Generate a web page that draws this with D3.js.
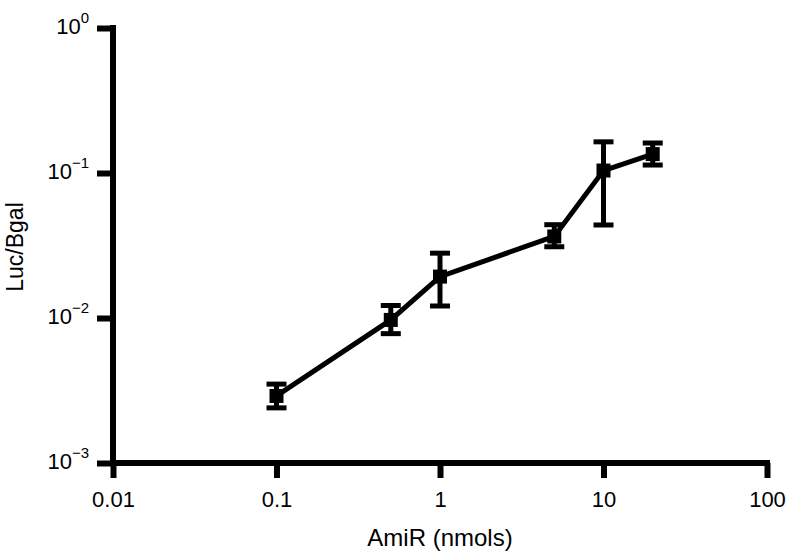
<!DOCTYPE html>
<html>
<head>
<meta charset="utf-8">
<script src="https://cdn.jsdelivr.net/npm/d3@7"></script>
<style>
  body { margin: 0; background: #fff; }
  text { font-family: "Liberation Sans", Arial, Helvetica, sans-serif; fill: #000; }
</style>
</head>
<body>
<svg id="chart" width="791" height="553"></svg>
<script>
// AmiR dose (nmols) vs Luc/Bgal
const doses = [0.1, 0.5, 1, 5, 10, 20];
const ratios = [0.0029, 0.0097, 0.0193, 0.0365, 0.104, 0.135];
const errLow = [0.0024, 0.0078, 0.0121, 0.031, 0.0438, 0.1135];
const errHigh = [0.0035, 0.0122, 0.028, 0.044, 0.164, 0.161];
const xTicks = [0.01, 0.1, 1, 10, 100];
const xTickLabels = ['0.01', '0.1', '1', '10', '100'];
const yTicks = [1e-3, 1e-2, 1e-1, 1];
const yTickExp = ['\u22123', '\u22122', '\u22121', '0'];

let svg = d3.select('#chart');
let x = d3.scaleLog().domain([0.01, 100]).range([113, 767]);
let y = d3.scaleLog().domain([1e-3, 1]).range([463, 28]);

let xAxis = svg.append('g')
  .attr('transform', 'translate(0,463)')
  .call(d3.axisBottom(x).tickValues(xTicks).tickSize(15).tickSizeOuter(0).tickPadding(13)
    .tickFormat((d, i) => xTickLabels[i]));

let yAxis = svg.append('g')
  .attr('transform', 'translate(113,0)')
  .call(d3.axisLeft(y).tickValues(yTicks).tickSize(16).tickSizeOuter(0).tickPadding(8)
    .tickFormat(() => ''));

[xAxis, yAxis].forEach(g => {
  g.select('.domain').remove();
  g.selectAll('.tick line').attr('stroke', '#000').attr('stroke-width', 6);
  g.selectAll('.tick text').attr('font-size', 22).style('font-family', '"Liberation Sans", Arial, sans-serif');
});

// axis lines
svg.append('line').attr('x1', 113).attr('x2', 113).attr('y1', y(1) - 3).attr('y2', 466)
  .attr('stroke', '#000').attr('stroke-width', 6);
svg.append('line').attr('x1', 110).attr('x2', x(100) + 3).attr('y1', 463).attr('y2', 463)
  .attr('stroke', '#000').attr('stroke-width', 6);

// superscript y tick labels
yAxis.selectAll('.tick text').each(function(d, i) {
  let t = d3.select(this).attr('dy', '0.25em');
  t.append('tspan').text('10');
  t.append('tspan').attr('font-size', 15).attr('dy', '-0.75em').text(yTickExp[i]);
});

// axis titles
svg.append('text').attr('x', x(1)).attr('y', 546).attr('text-anchor', 'middle')
  .attr('font-size', 24).text('AmiR (nmols)');
svg.append('text').attr('transform', 'translate(23,247) rotate(-90)')
  .attr('text-anchor', 'middle').attr('font-size', 23).text('Luc/Bgal');

// error bars
let bars = svg.append('g');
doses.forEach((d, i) => {
  let cx = x(d);
  bars.append('line').attr('x1', cx).attr('x2', cx).attr('y1', y(errLow[i])).attr('y2', y(errHigh[i]))
    .attr('stroke', '#000').attr('stroke-width', 5);
  [errLow[i], errHigh[i]].forEach(v => {
    bars.append('line').attr('x1', cx - 10).attr('x2', cx + 10).attr('y1', y(v)).attr('y2', y(v))
      .attr('stroke', '#000').attr('stroke-width', 5);
  });
});

// connecting line
let line = d3.line().x(d => x(d[0])).y(d => y(d[1]));
svg.append('path').datum(doses.map((d, i) => [d, ratios[i]]))
  .attr('d', line).attr('fill', 'none').attr('stroke', '#000').attr('stroke-width', 5);

// markers
svg.append('g').selectAll('rect').data(doses).join('rect')
  .attr('x', d => x(d) - 7).attr('y', (d, i) => y(ratios[i]) - 7)
  .attr('width', 14).attr('height', 14).attr('fill', '#000');
</script>
</body>
</html>
